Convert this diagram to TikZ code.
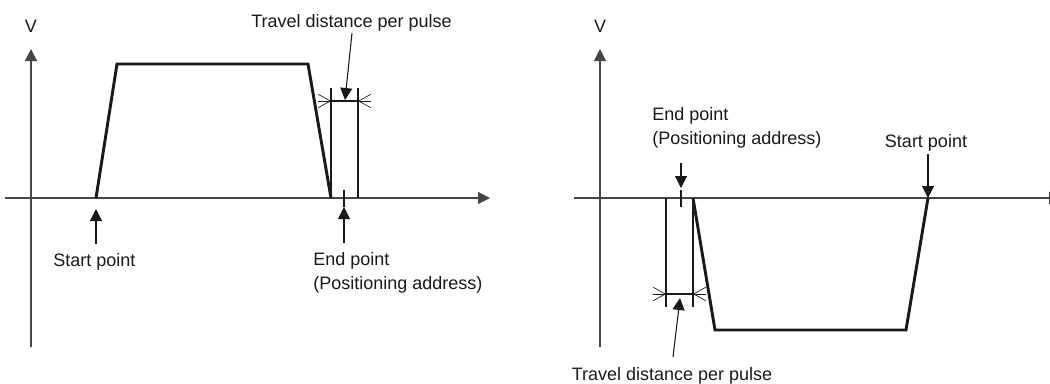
\documentclass[tikz,border=0pt]{standalone}
\usepackage{fontspec}
\setmainfont{Liberation Sans}
\usetikzlibrary{positioning,arrows.meta}
\definecolor{axGray}{RGB}{70,70,70}
\definecolor{lnBlack}{RGB}{25,25,25}

\begin{document}
\begin{tikzpicture}[
    x=0.75pt, y=-0.75pt,
    every node/.style={font=\fontsize{13.5}{18}\selectfont, inner sep=0pt, text=lnBlack},
    axis line/.style={draw=axGray, line width=0.9pt, -{Triangle[length=9pt, width=9pt]}},
    profile line/.style={draw=lnBlack, line width=2.2pt, line join=miter},
    dim line/.style={draw=lnBlack, line width=0.8pt},
    dim tip/.style={draw=lnBlack, line width=0.5pt, -{Straight Barb[length=9pt, width=10pt]}},
    label arrow/.style={draw=lnBlack, line width=0.8pt, -{Triangle[length=9pt, width=9pt]}}
]
  \useasboundingbox (0,0) rectangle (1050,383);

  % left chart: forward positioning
  \coordinate (oA) at (31,198);
  \draw[axis line] (31,347) -- (31,49) coordinate (vtipA);
  \draw[axis line] (5,198) -- (490,198);
  \node[anchor=base] (vlabA) at (31,32) {V};

  \draw[profile line] (96,198) coordinate (sA) -- (117,64) -- (308,64) -- (331,198) coordinate (eA);

  \draw[dim line] (331,88) -- (331,198);
  \draw[dim line] (358,88) -- (358,198);
  \draw[dim line] (331,101) coordinate (dA1) -- (358,101) coordinate (dA2);
  \draw[dim tip] (318,101) -- (dA1);
  \draw[dim tip] (371,101) -- (dA2);
  \draw[dim line] (344,190) -- (344,207) coordinate (tickA);

  \node[anchor=base] (travelA) at (351.5,27) {Travel distance per pulse};
  \draw[label arrow] (352,33) -- (345,100);

  \node[anchor=base] (startA) at (94.5,266) {Start point};
  \draw[label arrow] (96,244) -- (96,209);

  \node[anchor=north west, align=left] (endA) at (313,252) {End point\\(Positioning address)};
  \draw[label arrow] (344,243) -- (tickA);

  % right chart: reverse positioning
  \coordinate (oB) at (600,198);
  \draw[axis line] (600,347) -- (600,49) coordinate (vtipB);
  \draw[axis line] (574,198) -- (1061,198);
  \node[anchor=base] (vlabB) at (600,32) {V};

  \draw[profile line] (928,198) coordinate (sB) -- (906,330) -- (715,330) -- (693,198) coordinate (eB);

  \draw[dim line] (666,198) -- (666,307);
  \draw[dim line] (693,198) -- (693,307);
  \draw[dim line] (666,294) coordinate (dB1) -- (693,294) coordinate (dB2);
  \draw[dim tip] (653,294) -- (dB1);
  \draw[dim tip] (706,294) -- (dB2);
  \draw[dim line] (681,190) coordinate (tickB) -- (681,207);

  \node[anchor=north west, align=left] (endB) at (652,107) {End point\\(Positioning address)};
  \draw[label arrow] (681,163) -- (681,188);

  \node[anchor=base] (startB) at (926,147) {Start point};
  \draw[label arrow] (928,154) -- (sB);

  \node[anchor=base] (travelB) at (672,380) {Travel distance per pulse};
  \draw[label arrow] (673,357) -- (680,298);
\end{tikzpicture}
\end{document}
